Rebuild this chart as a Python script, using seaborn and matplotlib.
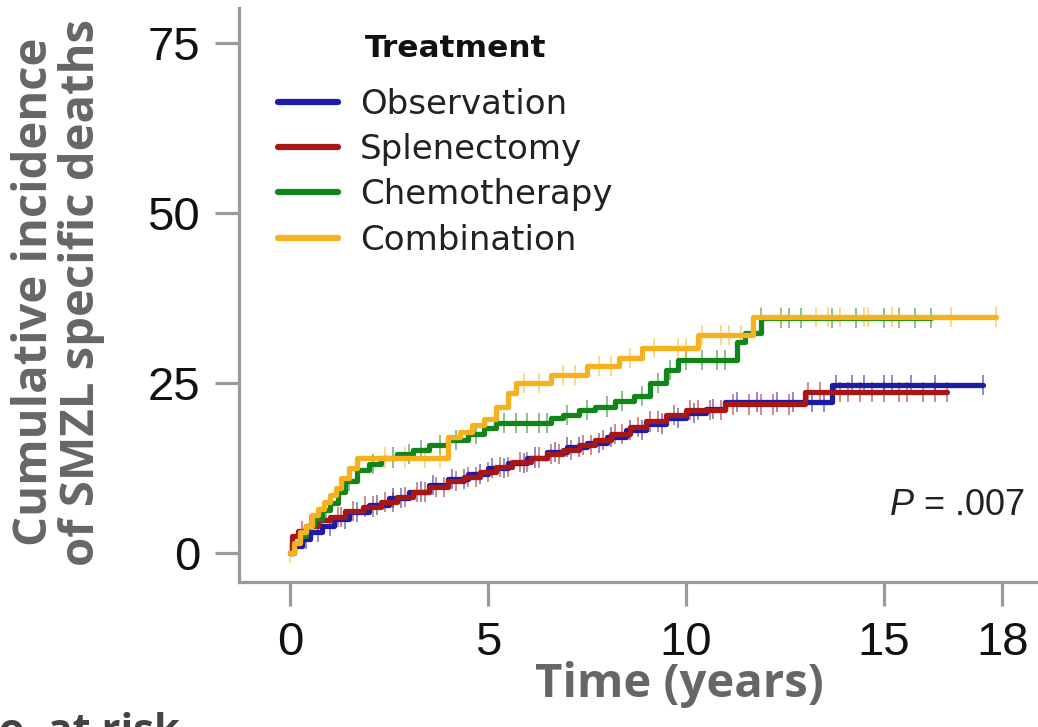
import numpy as np
import pandas as pd
import matplotlib
matplotlib.use("Agg")
import matplotlib.pyplot as plt
import seaborn as sns
from matplotlib.lines import Line2D

# ---------------- data ----------------
groups = ["Observation", "Splenectomy", "Chemotherapy", "Combination"]
colors = ["#1c1ca6", "#a81616", "#12851a", "#f6b21e"]

obs_t = [0, 0.1, 0.3, 0.5, 0.8, 1.1, 1.5, 2.0, 2.5, 3.0, 3.5, 4.0, 4.5, 5.0, 5.5, 6.0,
         6.5, 7.0, 7.5, 8.0, 8.5, 9.0, 9.5, 10.0, 10.5, 11.0, 13.7, 17.5]
obs_v = [0, 1.0, 2.0, 3.0, 4.0, 5.0, 6.0, 7.0, 8.0, 9.0, 10.0, 10.8, 11.6, 12.4, 13.2, 14.0,
         14.8, 15.5, 16.2, 17.0, 18.0, 19.0, 19.8, 20.6, 21.2, 22.2, 24.7, 24.7]
obs_cens = [0.4, 0.7, 1.0, 1.4, 1.7, 2.2, 2.6, 2.8, 3.3, 3.6, 4.1, 4.4, 4.8, 5.1, 5.4, 5.9,
            6.2, 6.7, 7.0, 7.3, 7.8, 8.1, 8.6, 8.9, 9.4, 9.8, 10.2, 10.7, 11.3, 11.8, 12.3,
            12.7, 13.2, 13.5, 13.8, 14.2, 14.5, 15.0, 15.2, 15.7, 16.3, 17.5]

spl_t = [0, 0.05, 0.2, 0.4, 0.7, 1.0, 1.4, 1.85, 2.3, 2.7, 3.1, 3.5, 4.0, 4.4, 4.8, 5.2,
         5.6, 6.1, 6.5, 6.9, 7.3, 7.7, 8.1, 8.6, 9.0, 9.5, 10.0, 11.0, 13.0, 16.6]
spl_v = [0, 2.4, 3.2, 4.0, 4.8, 5.3, 6.1, 6.8, 7.5, 8.2, 8.9, 9.7, 10.5, 11.2, 11.9, 12.6,
         13.3, 14.0, 14.5, 15.1, 15.9, 16.6, 17.5, 18.5, 19.3, 20.3, 21.0, 21.8, 23.7, 23.7]
spl_cens = [0.3, 0.5, 0.8, 1.2, 1.3, 1.6, 1.9, 2.1, 2.4, 2.6, 2.9, 3.2, 3.4, 3.7, 3.9, 4.2,
            4.5, 4.7, 5.0, 5.3, 5.5, 5.8, 6.0, 6.3, 6.6, 6.8, 7.1, 7.4, 7.6, 7.9, 8.2, 8.4,
            8.8, 9.1, 9.3, 9.7, 10.1, 10.3, 10.6, 10.9, 11.2, 11.6, 11.9, 12.2, 12.6, 13.1,
            13.4, 13.9, 14.1, 14.4, 14.7, 15.0, 15.4, 15.6, 16.0, 16.3, 16.6]

che_t = [0, 0.1, 0.25, 0.4, 0.6, 0.8, 1.0, 1.2, 1.4, 1.7, 2.0, 2.3, 2.7, 3.1, 3.5, 4.0,
         4.5, 4.9, 5.2, 6.6, 6.9, 7.3, 7.7, 8.2, 8.7, 9.1, 9.5, 9.8, 11.3, 11.5, 11.9, 16.2]
che_v = [0, 1.5, 2.5, 4.0, 5.0, 6.3, 7.3, 9.0, 10.5, 12.2, 13.0, 14.0, 14.5, 15.1, 15.8, 16.6,
         17.5, 18.4, 19.1, 19.8, 20.3, 21.0, 21.5, 22.3, 23.0, 25.0, 26.9, 28.4, 31.0, 32.3,
         34.5, 34.5]
che_cens = [0.9, 1.5, 2.1, 2.6, 3.0, 3.3, 3.8, 4.2, 4.7, 5.4, 5.7, 6.0, 6.3, 6.5, 7.0, 7.5,
            8.0, 8.4, 8.9, 9.3, 9.6, 10.0, 10.4, 10.8, 11.0, 11.9, 12.4, 12.6, 12.9, 13.7,
            14.3, 15.0, 15.4, 15.8, 16.2]

com_t = [0, 0.1, 0.25, 0.4, 0.55, 0.7, 0.85, 1.0, 1.15, 1.3, 1.5, 1.7, 4.0, 4.3, 4.6, 4.9,
         5.2, 5.5, 5.7, 6.6, 7.5, 8.3, 8.9, 10.3, 11.7, 17.85]
com_v = [0, 1.5, 3.0, 4.0, 5.5, 6.5, 7.5, 8.5, 9.5, 11.0, 12.5, 14.0, 17.0, 17.8, 18.8, 19.6,
         21.5, 23.5, 25.0, 26.2, 27.4, 28.7, 30.1, 32.0, 34.7, 34.7]
com_cens = [0.0, 2.4, 2.9, 3.4, 3.8, 5.9, 6.3, 6.9, 7.2, 7.8, 8.1, 8.6, 9.2, 9.8, 10.0, 10.4,
            10.9, 11.1, 11.4, 11.9, 12.4, 13.3, 13.6, 13.9, 14.5, 14.6, 15.2, 15.4, 16.7, 17.85]

x_ticks = [0, 5, 10, 15, 18]
y_ticks = [0, 25, 50, 75]

curves = {
    "Observation": (obs_t, obs_v, obs_cens),
    "Splenectomy": (spl_t, spl_v, spl_cens),
    "Chemotherapy": (che_t, che_v, che_cens),
    "Combination": (com_t, com_v, com_cens),
}

step_rows, cens_rows = [], []
for g, (t, v, c) in curves.items():
    t = np.asarray(t); v = np.asarray(v)
    for ti, vi in zip(t, v):
        step_rows.append((g, ti, vi))
    idx = np.searchsorted(t, np.asarray(c), side="right") - 1
    for ci, vi in zip(c, v[np.clip(idx, 0, None)]):
        cens_rows.append((g, ci, vi))
steps = pd.DataFrame(step_rows, columns=["Treatment", "time", "ci"])
cens = pd.DataFrame(cens_rows, columns=["Treatment", "time", "ci"])

# ---------------- plot ----------------
sns.set_theme(style="white")
plt.rcParams["font.family"] = ["Liberation Sans", "DejaVu Sans"]
plt.rcParams["mathtext.fontset"] = "custom"
plt.rcParams["mathtext.it"] = "Liberation Sans:italic"
plt.rcParams["mathtext.rm"] = "Liberation Sans"

fig = plt.figure(figsize=(10.38, 7.27), dpi=100)
ax = fig.add_axes([239 / 1038, 1 - 582 / 727, 1 - 239 / 1038, (582 - 8) / 727])

pal = dict(zip(groups, colors))
sns.scatterplot(data=cens, x="time", y="ci", hue="Treatment", palette=pal, marker="|",
                s=210, linewidth=1.4, alpha=0.5, legend=False, ax=ax, zorder=2)
sns.lineplot(data=steps, x="time", y="ci", hue="Treatment", palette=pal, hue_order=groups,
             estimator=None, drawstyle="steps-post", linewidth=3.8, legend=False, ax=ax,
             zorder=3)

ax.set_xlim(-1.29, 18.9)
ax.set_ylim(-4.3, 80.1)
ax.set_xticks(x_ticks)
ax.set_yticks(y_ticks)
ax.set_xticklabels([str(v) for v in x_ticks])
ax.set_yticklabels([str(v) for v in y_ticks])

for side in ["top", "right"]:
    ax.spines[side].set_visible(False)
for side in ["left", "bottom"]:
    ax.spines[side].set_color("#9a9a9a")
    ax.spines[side].set_linewidth(2.3)
ax.tick_params(axis="both", which="major", direction="out", length=17, width=2.3,
               color="#9a9a9a", labelsize=34, labelcolor="#111111", pad=11,
               left=True, bottom=True)

label_font = dict(family=["Open Sans", "DejaVu Sans"], weight="bold", size=34,
                  color="#666666")
ax.set_ylabel("Cumulative incidence\nof SMZL specific deaths", linespacing=1.0,
              **label_font)
ax.yaxis.set_label_coords(-0.168, 0.505)
ax.set_xlabel("Time (years)", **label_font)
ax.xaxis.set_label_coords(0.551, -0.137)

ax.text(18.56, 7.0, r"$P$ = .007", ha="right", va="center", fontsize=26,
        color="#222222")

handles = [Line2D([0], [0], color=c, lw=4.5) for c in colors]
leg = ax.legend(handles, groups, loc="upper left",
                bbox_to_anchor=(0.049, 0.861), frameon=False,
                prop={"family": "DejaVu Sans", "size": 24.5},
                handlelength=1.75, handletextpad=0.65, labelspacing=0.36,
                borderaxespad=0.0, borderpad=0.0)
for txt in leg.get_texts():
    txt.set_color("#222222")
ax.text(0.158, 0.93, "Treatment", transform=ax.transAxes, ha="left", va="center",
        fontfamily="DejaVu Sans", fontweight="bold", fontsize=22.5, color="#111111")

fig.text(-0.034, -0.022, "No. at risk", ha="left", va="baseline",
         fontfamily=["Open Sans", "DejaVu Sans"], fontweight="bold", fontsize=30,
         color="#444444")

fig.savefig("out.png", dpi=100)
